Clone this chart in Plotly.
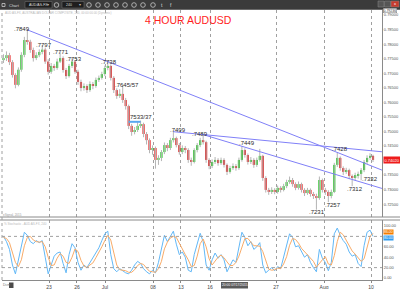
import plotly.graph_objects as go

W, H = 400, 289

# ---------------- data ----------------
first_open = 0.7745
closes = [0.7752,0.7762,0.7738,0.7694,0.7660,0.7712,0.7763,0.7814,0.7808,0.7780,
          0.7752,0.7762,0.7773,0.7781,0.7740,0.7705,0.7725,0.7718,0.7740,0.7752,
          0.7711,0.7690,0.7725,0.7740,0.7705,0.7670,0.7649,0.7656,0.7642,0.7663,
          0.7656,0.7677,0.7684,0.7697,0.7718,0.7725,0.7684,0.7642,0.7622,0.7629,
          0.7608,0.7587,0.7519,0.7498,0.7505,0.7519,0.7525,0.7491,0.7470,0.7436,
          0.7443,0.7402,0.7409,0.7429,0.7453,0.7443,0.7470,0.7477,0.7453,0.7429,
          0.7443,0.7436,0.7402,0.7395,0.7436,0.7453,0.7470,0.7463,0.7402,0.7381,
          0.7395,0.7402,0.7391,0.7402,0.7385,0.7361,0.7374,0.7381,0.7374,0.7402,
          0.7436,0.7419,0.7395,0.7402,0.7385,0.7402,0.7416,0.7340,0.7299,0.7292,
          0.7299,0.7292,0.7306,0.7299,0.7312,0.7326,0.7333,0.7319,0.7306,0.7319,
          0.7299,0.7288,0.7299,0.7285,0.7278,0.7271,0.7333,0.7299,0.7292,0.7278,
          0.7292,0.7385,0.7409,0.7374,0.7361,0.7367,0.7347,0.7340,0.7350,0.7354,
          0.7367,0.7395,0.7409,0.7416,0.7402]
highs = [0.7765,0.7775,0.7770,0.7745,0.7700,0.7720,0.7772,0.7825,0.7849,0.7815,
         0.7788,0.7772,0.7782,0.7797,0.7788,0.7748,0.7735,0.7732,0.7750,0.7771,
         0.7758,0.7718,0.7732,0.7753,0.7745,0.7712,0.7678,0.7665,0.7662,0.7672,
         0.7670,0.7685,0.7692,0.7705,0.7726,0.7738,0.7730,0.7690,0.7648,0.7645,
         0.7657,0.7615,0.7592,0.7526,0.7515,0.7533,0.7537,0.7530,0.7498,0.7476,
         0.7452,0.7448,0.7418,0.7436,0.7462,0.7460,0.7478,0.7499,0.7482,0.7460,
         0.7452,0.7450,0.7442,0.7410,0.7442,0.7460,0.7478,0.7489,0.7468,0.7408,
         0.7404,0.7412,0.7408,0.7410,0.7408,0.7390,0.7382,0.7390,0.7388,0.7410,
         0.7449,0.7442,0.7424,0.7412,0.7408,0.7410,0.7440,0.7420,0.7346,0.7306,
         0.7308,0.7305,0.7314,0.7312,0.7320,0.7334,0.7345,0.7340,0.7325,0.7328,
         0.7324,0.7305,0.7306,0.7304,0.7292,0.7286,0.7345,0.7338,0.7306,0.7298,
         0.7300,0.7392,0.7428,0.7414,0.7380,0.7375,0.7372,0.7352,0.7358,0.7362,
         0.7374,0.7402,0.7418,0.7425,0.7420]
lows = [0.7735,0.7742,0.7728,0.7685,0.7648,0.7655,0.7705,0.7755,0.7798,0.7770,
        0.7740,0.7745,0.7755,0.7765,0.7732,0.7695,0.7698,0.7708,0.7712,0.7735,
        0.7702,0.7680,0.7685,0.7718,0.7698,0.7660,0.7638,0.7640,0.7632,0.7636,
        0.7645,0.7650,0.7670,0.7678,0.7690,0.7710,0.7675,0.7632,0.7612,0.7615,
        0.7598,0.7575,0.7508,0.7485,0.7490,0.7498,0.7512,0.7480,0.7455,0.7425,
        0.7420,0.7372,0.7385,0.7398,0.7422,0.7432,0.7436,0.7462,0.7445,0.7420,
        0.7422,0.7425,0.7392,0.7382,0.7390,0.7428,0.7446,0.7455,0.7392,0.7370,
        0.7374,0.7388,0.7382,0.7385,0.7376,0.7350,0.7355,0.7368,0.7365,0.7368,
        0.7396,0.7410,0.7386,0.7388,0.7375,0.7378,0.7396,0.7330,0.7290,0.7282,
        0.7285,0.7284,0.7286,0.7290,0.7294,0.7305,0.7320,0.7310,0.7298,0.7300,
        0.7290,0.7278,0.7282,0.7276,0.7268,0.7231,0.7265,0.7290,0.7282,0.7257,
        0.7270,0.7288,0.7378,0.7365,0.7350,0.7354,0.7336,0.7312,0.7332,0.7338,
        0.7332,0.7360,0.7388,0.7402,0.7395]

stoch_k = [80,70,55,25,8,35,62,88,82,70,66,72,68,72,40,8,25,42,48,50,
           28,10,45,66,58,30,15,25,20,30,38,50,58,72,85,90,45,18,12,18,
           14,10,8,15,25,32,28,18,12,8,15,10,30,55,82,70,80,90,65,45,
           50,40,15,12,45,68,86,70,25,15,35,48,38,45,35,12,25,35,30,62,
           88,78,62,70,55,60,68,25,10,15,20,14,22,18,40,65,85,78,60,62,
           50,40,45,30,20,12,55,38,30,14,30,85,96,82,72,65,50,42,45,28,
           22,62,88,92,80]
stoch_d = [78,76,68,50,30,22,35,62,78,80,73,70,69,70,60,40,24,25,38,47,
           42,30,28,40,56,51,34,23,20,25,29,39,49,60,72,82,73,51,25,16,
           15,14,11,11,16,24,28,26,19,13,12,11,18,32,56,69,77,80,78,67,
           53,45,35,22,24,42,66,75,60,37,25,33,40,44,39,31,24,24,30,42,
           60,76,76,70,62,62,61,51,34,17,15,16,19,18,27,41,63,76,74,67,
           57,51,45,38,32,21,29,35,41,27,25,43,70,88,83,73,62,52,46,38,
           32,37,57,80,86]

tick_pos = [15.27, 24.66, 34.06, 50.17, 59.56, 69.30, 91.44, 107.55, 123.32]
tick_text = ["23", "26", "Jul", "08", "13", "16", "27", "Aug", "10"]
price_ticks = [0.720, 0.725, 0.730, 0.735, 0.740, 0.745, 0.750, 0.755,
               0.760, 0.765, 0.770, 0.775, 0.780, 0.785, 0.790]
stoch_ticks = [0, 20, 40, 60, 100]   # 80 is covered by the value boxes

label_text = [".7849", ".7797", ".7771", ".7753", ".7738", ".7645/57", "7533/37",
              ".7499", ".7489", ".7449", ".7428", ".7332", ".7312", ".7257", ".7231"]
label_idx = [6.04, 13.59, 19.30, 23.66, 35.40, 41.44, 46.14,
             58.39, 65.94, 81.54, 112.75, 122.99, 117.79, 110.57, 105.03]
label_price = [0.78502, 0.77986, 0.77712, 0.77505, 0.77402, 0.76595, 0.75495,
               0.75049, 0.74928, 0.74585, 0.74379, 0.73348, 0.73021, 0.72472, 0.72214]

trend_x0 = [8, 57, 67]
trend_p0 = [0.7849, 0.7499, 0.7489]
trend_x1 = [127.0, 127.0, 127.0]
trend_p1 = [0.7367, 0.7430, 0.7304]

# ---------------- derived ----------------
n = len(closes)
idx = list(range(n))
opens = [first_open] + closes[:-1]
body_base = [min(o, c) for o, c in zip(opens, closes)]
body_h = [abs(c - o) for o, c in zip(opens, closes)]
body_col = ["#19c619" if c >= o else "#e31414" for o, c in zip(opens, closes)]

wx, wy = [], []
for i, lo, hi in zip(idx, lows, highs):
    wx += [i, i, None]
    wy += [lo, hi, None]

XR = [-0.503, 127.01]
XD = [0.005, 0.955]
def px(x): return x / W
def py(y): return 1 - y / H

fig = go.Figure()
fig.add_trace(go.Scatter(x=wx, y=wy, mode="lines", line=dict(color="#b4b4b4", width=1),
                         xaxis="x", yaxis="y", hoverinfo="skip"))
fig.add_trace(go.Bar(x=idx, y=body_h, base=body_base, marker=dict(color=body_col, line=dict(width=0)),
                     width=0.72, xaxis="x", yaxis="y"))
fig.add_trace(go.Scatter(x=idx, y=stoch_k, mode="lines", line=dict(color="#62b8f7", width=1),
                         xaxis="x2", yaxis="y2"))
fig.add_trace(go.Scatter(x=idx, y=stoch_d, mode="lines", line=dict(color="#f8ab68", width=1),
                         xaxis="x2", yaxis="y2"))

grid = dict(showgrid=True, gridcolor="#a0a0a0", gridwidth=1, griddash="dot")
fig.update_layout(
    width=W, height=H, margin=dict(l=0, r=0, t=0, b=0),
    paper_bgcolor="white", plot_bgcolor="white", showlegend=False,
    font=dict(family="Liberation Sans, Arial, sans-serif"),
    xaxis=dict(domain=XD, range=XR, anchor="y", tickvals=tick_pos, showticklabels=False,
               ticks="", zeroline=False, showline=False, **grid),
    yaxis=dict(domain=[py(217), py(10)], range=[0.72059, 0.79172], side="right", anchor="x",
               tickvals=price_ticks, tickformat=".5f", tickfont=dict(size=4, color="#555"),
               showgrid=False, zeroline=False, showline=True, linecolor="#8a8a8a", linewidth=1,
               ticks=""),
    xaxis2=dict(domain=XD, range=XR, anchor="y2", matches="x", tickvals=tick_pos, ticktext=tick_text,
                tickfont=dict(size=5, color="#444"), ticks="outside", ticklen=2, tickcolor="#888",
                zeroline=False, showline=True, linecolor="#8a8a8a", linewidth=1, **grid),
    yaxis2=dict(domain=[py(280), py(220)], range=[-3.8, 111.5], side="right", anchor="x2",
                tickvals=stoch_ticks, tickformat=".2f", tickfont=dict(size=4, color="#555"),
                showgrid=False, zeroline=False, showline=True, linecolor="#8a8a8a", linewidth=1,
                ticks=""),
)

shapes = []
# toolbar
shapes.append(dict(type="rect", xref="paper", yref="paper", x0=0, x1=1, y0=py(9.5), y1=1,
                   fillcolor="#3b3b3b", line=dict(width=0), layer="above"))
shapes.append(dict(type="line", xref="paper", yref="paper", x0=0, x1=1, y0=py(9.5), y1=py(9.5),
                   line=dict(color="#6a6a6a", width=1), layer="above"))
for x0, x1 in [(25, 52), (62, 84)]:
    shapes.append(dict(type="rect", xref="paper", yref="paper", x0=px(x0), x1=px(x1), y0=py(8), y1=py(1.5),
                       fillcolor="#1e1e1e", line=dict(color="#777", width=0.5), layer="above"))
for cx in [56.5, 89, 98, 107, 116, 125, 134, 143, 153]:
    shapes.append(dict(type="circle", xref="paper", yref="paper", x0=px(cx - 2.3), x1=px(cx + 2.3),
                       y0=py(7.3), y1=py(2.7), line=dict(color="#c8c8c8", width=0.8), layer="above"))
shapes.append(dict(type="rect", xref="paper", yref="paper", x0=px(2), x1=px(5), y0=py(6.5), y1=py(3.5),
                   line=dict(color="#c8c8c8", width=0.8), layer="above"))
for x0, x1, col in [(378, 384, "#555"), (384.5, 390.5, "#555"), (391, 399, "#c43b2e")]:
    shapes.append(dict(type="rect", xref="paper", yref="paper", x0=px(x0), x1=px(x1), y0=py(7), y1=py(1),
                       fillcolor=col, line=dict(color="#888", width=0.5), layer="above"))
# panel separator
for yy in [217, 220]:
    shapes.append(dict(type="line", xref="paper", yref="paper", x0=0, x1=1, y0=py(yy), y1=py(yy),
                       line=dict(color="#8a8a8a", width=1)))
# left dotted border
shapes.append(dict(type="line", xref="paper", yref="paper", x0=px(2), x1=px(2), y0=py(280), y1=py(10),
                   line=dict(color="#a0a0a0", width=1, dash="dot")))
# trend lines
for a, b, c, d in zip(trend_x0, trend_p0, trend_x1, trend_p1):
    shapes.append(dict(type="line", xref="x", yref="y", x0=a, y0=b, x1=c, y1=d,
                       line=dict(color="#8080f8", width=1)))
shapes.append(dict(type="line", xref="x", yref="y", x0=42, y0=0.7533, x1=46, y1=0.7533,
                   line=dict(color="#58a8f0", width=2)))
# stochastic 80/20
for lv in [80, 20]:
    shapes.append(dict(type="line", xref="x2 domain", yref="y2", x0=0, x1=1, y0=lv, y1=lv,
                       line=dict(color="#a0a0a0", width=1, dash="dot")))
# bottom-left widget and crosshair box
shapes.append(dict(type="rect", xref="paper", yref="paper", x0=px(9), x1=px(13.5), y0=py(288), y1=py(282.5),
                   fillcolor="#4a4a4a", line=dict(width=0)))
shapes.append(dict(type="rect", xref="paper", yref="paper", x0=px(221), x1=px(248), y0=py(288.5), y1=py(282),
                   fillcolor="#5a5a5a", line=dict(width=0)))
fig.update_layout(shapes=shapes)

ann = []
def txt(x, y, s, size, color, xanchor="left", **kw):
    ann.append(dict(x=px(x), y=py(y), xref="paper", yref="paper", text=s, showarrow=False,
                    xanchor=xanchor, yanchor="middle", font=dict(size=size, color=color), **kw))

# toolbar texts
txt(6.5, 5, "Chart", 4, "#dddddd")
txt(27, 4.8, "AUD/AS-FX", 3.5, "#dddddd")
txt(51, 4.8, "▾", 4, "#bbbbbb", xanchor="right")
txt(64, 4.8, "240", 3.5, "#dddddd")
txt(83, 4.8, "▾", 4, "#bbbbbb", xanchor="right")
txt(162, 5, "t", 5, "#dddddd", xanchor="center")
txt(171, 5, "f", 5, "#dddddd", xanchor="center")
txt(395, 4, "x", 4, "white", xanchor="center")
# headers
txt(3, 13.3, "AUD AS-FX, AUSTRALIAN DOLLAR COMPOSITE, 240, 00:00:00.00 (Dynamic)", 3, "#b8b8b8")
txt(188.5, 20, "4 HOUR AUDUSD", 10.5, "#ff1d1d", xanchor="center")
txt(1, 215.3, "eSignal, 2015", 3, "#9a9a9a")
txt(2, 223.5, "% Stochastic - AUD AS-FX, 240", 3, "#b8b8b8")
txt(1, 285.3, "Dcm", 3.5, "#777777")
txt(234.5, 285.3, "20:00 07/17/2015", 3.3, "#ffffff", xanchor="center")
# price boxes on axis
ann.append(dict(x=px(383), y=py(10.6), xref="paper", yref="paper", text="0.79236", showarrow=False,
                xanchor="left", yanchor="middle", font=dict(size=3.5, color="#333"),
                bgcolor="white", bordercolor="#777", borderwidth=0.5, borderpad=0))
ann.append(dict(x=px(383), y=closes[-1], xref="paper", yref="y", text=f"{closes[-1]:.5f}", showarrow=False,
                xanchor="left", yanchor="middle", font=dict(size=4, color="white"),
                bgcolor="#ee1c1c", borderpad=0.5))
ann.append(dict(x=px(383), y=stoch_d[-1], xref="paper", yref="y2", text=f"{stoch_d[-1]:.2f}", showarrow=False,
                xanchor="left", yanchor="middle", yshift=1.5, font=dict(size=3.5, color="white"),
                bgcolor="#f57c00", borderpad=0))
ann.append(dict(x=px(383), y=stoch_k[-1], xref="paper", yref="y2", text=f"{stoch_k[-1]:.2f}", showarrow=False,
                xanchor="left", yanchor="middle", yshift=-1.5, font=dict(size=3.5, color="white"),
                bgcolor="#2f9cf0", borderpad=0))
# chart labels
for s, xi, pv in zip(label_text, label_idx, label_price):
    ann.append(dict(x=xi, y=pv, xref="x", yref="y", text=s, showarrow=False, xanchor="center",
                    yanchor="middle", font=dict(size=6, color="#2a2a2a")))
fig.update_layout(annotations=ann)

fig.write_html("out.html")
